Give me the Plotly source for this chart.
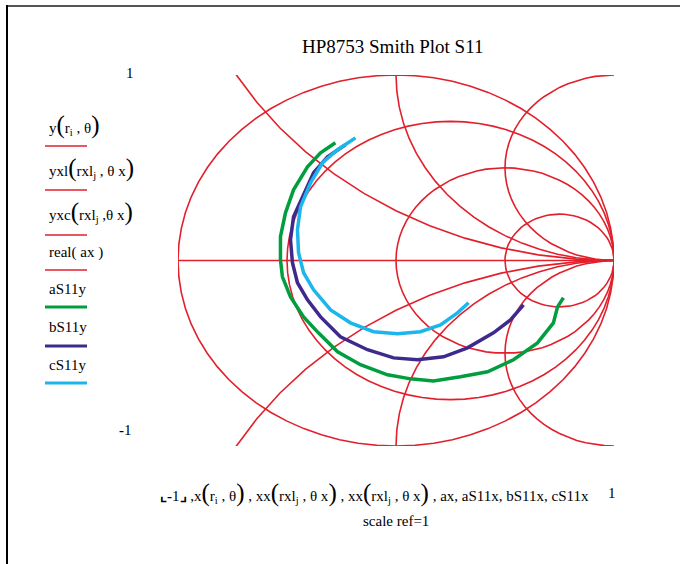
import numpy as np
import plotly.graph_objects as go

# ---- data (normalised reflection-coefficient coordinates) ----
r_circles = [0.0, 1/3, 1.0, 3.0]          # constant-resistance circles
x_arcs = [0.5, 1.0, 2.0]                   # constant-reactance arcs (+/-)

aS11x = [-0.278, -0.346, -0.406, -0.470, -0.507, -0.530, -0.530, -0.521, -0.484, -0.424, -0.356,
         -0.268, -0.163, -0.039, 0.067, 0.172, 0.296, 0.420, 0.539, 0.649, 0.722, 0.741, 0.768]
aS11y = [0.635, 0.581, 0.505, 0.381, 0.257, 0.128, 0.004, -0.088, -0.196, -0.304, -0.390,
         -0.492, -0.562, -0.616, -0.638, -0.649, -0.627, -0.600, -0.535, -0.444, -0.336, -0.250, -0.201]

bS11x = [-0.232, -0.314, -0.378, -0.429, -0.470, -0.484, -0.475, -0.452, -0.406, -0.346, -0.255,
         -0.131, -0.011, 0.099, 0.218, 0.328, 0.447, 0.525, 0.585]
bS11y = [0.624, 0.559, 0.473, 0.343, 0.236, 0.112, -0.012, -0.120, -0.212, -0.304, -0.411,
         -0.481, -0.525, -0.535, -0.519, -0.471, -0.390, -0.320, -0.239]

cS11x = [-0.186, -0.268, -0.337, -0.392, -0.438, -0.452, -0.447, -0.424, -0.378, -0.300, -0.209,
         -0.103, 0.007, 0.112, 0.204, 0.282, 0.333]
cS11y = [0.661, 0.597, 0.527, 0.419, 0.289, 0.165, 0.042, -0.066, -0.158, -0.266, -0.336,
         -0.384, -0.395, -0.384, -0.347, -0.282, -0.228]

RED = "rgb(226,32,44)"
GREEN = "rgb(0,158,62)"
PURPLE = "rgb(62,42,140)"
CYAN = "rgb(28,182,236)"
FONT = "Liberation Serif"

W, H = 680, 564
ML, MR, MT, MB = 178, 66, 75, 118
PW, PH = W - ML - MR, H - MT - MB


def px(x):
    return (x - ML) / PW


def py(y):
    return 1 - (y - MT) / PH


fig = go.Figure()

theta = np.linspace(0, 2 * np.pi, 73)
for r in r_circles:
    c, rad = r / (1 + r), 1 / (1 + r)
    fig.add_trace(go.Scatter(x=c + rad * np.cos(theta), y=rad * np.sin(theta), mode="lines",
                             line=dict(color=RED, width=1.6), hoverinfo="skip", showlegend=False))
for xv in x_arcs:
    rad = 1 / xv
    for s in (1, -1):
        fig.add_trace(go.Scatter(x=1 + rad * np.cos(theta), y=s * rad + rad * np.sin(theta),
                                 mode="lines", line=dict(color=RED, width=1.6),
                                 hoverinfo="skip", showlegend=False))
fig.add_trace(go.Scatter(x=[-1, 1], y=[0, 0], mode="lines", line=dict(color=RED, width=1.6),
                         hoverinfo="skip", showlegend=False))

for xs, ys, col in ((aS11x, aS11y, GREEN), (bS11x, bS11y, PURPLE), (cS11x, cS11y, CYAN)):
    fig.add_trace(go.Scatter(x=xs, y=ys, mode="lines", line=dict(color=col, width=3.5),
                             showlegend=False))

big = "<span style='font-size:25px'>%s</span>"
legend_items = [
    ("y" + big % "(" + "r<sub>i</sub> , θ" + big % ")", 125, 146, RED, 1.6),
    ("yxl" + big % "(" + "rxl<sub>j</sub> , θ x" + big % ")", 168, 190, RED, 1.6),
    ("yxc" + big % "(" + "rxl<sub>j</sub> ,θ x" + big % ")", 212, 235, RED, 1.6),
    ("real( ax )", 253, 270, RED, 1.6),
    ("aS11y", 289, 307, GREEN, 3.2),
    ("bS11y", 327, 346, PURPLE, 3.2),
    ("cS11y", 365, 383, CYAN, 3.2),
]
shapes = []
annotations = []
for txt, ty, ly, col, w in legend_items:
    annotations.append(dict(x=px(47), y=py(ty), xref="paper", yref="paper", text=txt,
                            showarrow=False, xanchor="left", yanchor="middle",
                            font=dict(family=FONT, size=15, color="black")))
    shapes.append(dict(type="line", xref="paper", yref="paper", x0=px(45), x1=px(87),
                       y0=py(ly), y1=py(ly), line=dict(color=col, width=w)))

# frame lines
shapes.append(dict(type="line", xref="paper", yref="paper", x0=px(6), x1=px(680),
                   y0=py(6), y1=py(6), line=dict(color="#555555", width=2)))
shapes.append(dict(type="line", xref="paper", yref="paper", x0=px(7), x1=px(7),
                   y0=py(5), y1=py(564), line=dict(color="black", width=2)))


def note(x, y, text, size=15, xanchor="center"):
    return dict(x=px(x), y=py(y), xref="paper", yref="paper", text=text, showarrow=False,
                xanchor=xanchor, yanchor="middle", font=dict(family=FONT, size=size, color="black"))


annotations += [
    note(392, 46, "HP8753 Smith Plot S11", 19),
    note(130, 73, "1"),
    note(125, 430, "<b>-</b>1"),
    note(612, 493, "1"),
    note(158, 493, "<b>⌞-</b>1<b>⌟</b> ,x" + big % "(" + "r<sub>i</sub> , θ" + big % ")"
         + " , xx" + big % "(" + "rxl<sub>j</sub> , θ x" + big % ")"
         + " , xx" + big % "(" + "rxl<sub>j</sub> , θ x" + big % ")"
         + " , ax, aS11x, bS11x, cS11x", xanchor="left"),
    note(396, 521, "scale ref=1"),
]

fig.update_layout(
    width=W, height=H, margin=dict(l=ML, r=MR, t=MT, b=MB),
    paper_bgcolor="white", plot_bgcolor="white",
    xaxis=dict(range=[-1, 1], visible=False, showgrid=False, zeroline=False, fixedrange=True),
    yaxis=dict(range=[-1, 1], visible=False, showgrid=False, zeroline=False, fixedrange=True),
    shapes=shapes, annotations=annotations, showlegend=False,
)
fig.write_html("out.html", config={"displayModeBar": False},
               post_script="document.body.style.margin='0';")
